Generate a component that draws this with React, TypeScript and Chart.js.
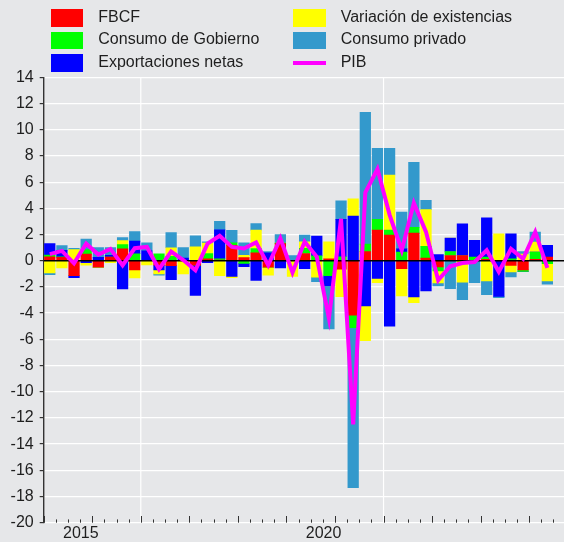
import React, { useEffect, useRef } from "react";
import { Chart, registerables } from "chart.js";

Chart.register(...registerables);

const QUARTERS = [
  "2014T1","2014T2","2014T3","2014T4","2015T1","2015T2","2015T3","2015T4",
  "2016T1","2016T2","2016T3","2016T4","2017T1","2017T2","2017T3","2017T4",
  "2018T1","2018T2","2018T3","2018T4","2019T1","2019T2","2019T3","2019T4",
  "2020T1","2020T2","2020T3","2020T4","2021T1","2021T2","2021T3","2021T4",
  "2022T1","2022T2","2022T3","2022T4","2023T1","2023T2","2023T3","2023T4",
  "2024T1","2024T2",
];

const FBCF = [
  0.29, 0.25, -1.15, 0.5, -0.5, 0.28, 0.9, -0.71, 0, -0.35, -0.38, 0, -0.35, 0.15,
  0.05, 1.17, 0.23, 0.6, -0.5, 1.3, 0, 0.55, 0, 0.15, -0.65, -4.15, 0.69, 2.34,
  1.96, -0.6, 2.1, 0.2, -0.48, 0.4, 0.4, 0, 0.1, 0, -0.36, -0.7, 0.1, 0.28,
];
const CONSUMO_GOBIERNO = [
  0.13, 0.05, 0, 0.35, 0, 0, 0.33, 0.53, 0, 0.53, 0.33, 0, 0, 0.4,
  0.1, 0.2, -0.2, 0.33, 0, 0.05, 0, 0.4, 0.37, -1.15, 0.3, -0.96, 0.58, 0.82,
  0.38, 0.66, 0.45, 0.9, -0.3, 0.3, 0, 0.28, 0.18, 0, 0.15, -0.12, 0.56, -0.23,
];
const EXPORTACIONES_NETAS = [
  0.89, 0.5, -0.15, -0.15, 0.25, 0.13, -2.15, 0.97, 0.76, -0.35, -1.07, 0.2, -2.3, -0.15,
  2.2, -1.2, -0.25, -1.5, 0.6, -0.55, 0, -0.6, 1.5, -0.75, 2.85, 3.41, -3.46, -1.35,
  -4.99, 0.25, -2.76, -2.3, 0.46, 1.03, 2.42, 1.27, 3.0, -2.72, 1.9, 0, 0, 0.89,
];
const VARIACION_EXISTENCIAS = [
  -0.93, -0.55, 0.85, -0.2, 0, -0.15, 0.3, -0.61, -0.33, -0.3, 0.66, -1.0, 1.05, 0.8,
  -1.15, -0.1, 0.18, 1.4, -0.6, 0, -1.2, 0.5, -1.25, 1.3, -2.1, 1.32, -2.64, -0.33,
  4.2, -2.08, -0.44, 2.8, -0.92, 0, -1.63, 0, -1.55, 2.06, -0.5, 0.5, 0.76, -1.32,
];
const CONSUMO_PRIVADO = [
  -0.13, 0.35, 0.1, 0.8, 0.75, 0.6, 0.23, 0.72, 0.6, -0.1, 1.15, 0.8, 0.85, 0.1,
  0.65, 0.95, 0.95, 0.5, 0.1, 0.65, 0.4, 0.5, -0.35, -3.3, 1.42, -12.22, 10.05, 5.42,
  2.04, 2.8, 4.95, 0.7, -0.23, -2.14, -1.35, -1.68, -1.05, -0.1, -0.38, 0.2, 0.77, -0.25,
];
const PIB = [
  0.5, 0.75, -0.2, 1.3, 0.47, 0.9, -0.35, 0.95, 1.05, -0.65, 0.7, 0.05, -0.73, 1.3,
  1.9, 1.05, 0.93, 1.4, -0.35, 1.7, -0.9, 1.45, 0.3, -4.4, 3.2, -12.5, 5.2, 7.0,
  3.5, 0.8, 4.4, 2.2, -1.5, -0.42, -0.18, -0.1, 0.8, -0.85, 0.9, 0.15, 2.2, -0.55,
];

const YEAR_LABELS = ["2015", "2020"];
const FIRST_YEAR = 2014;
const Y_MIN = -20;
const Y_MAX = 14;

const FONT = '"Liberation Sans", Arial, Helvetica, sans-serif';
const BG = "#e6e7e9";
const TEXT = "#1e1e1e";

const LEGEND = [
  { label: "FBCF", color: "#ff0000", kind: "box" },
  { label: "Consumo de Gobierno", color: "#00ff00", kind: "box" },
  { label: "Exportaciones netas", color: "#0000ff", kind: "box" },
  { label: "Variación de existencias", color: "#ffff00", kind: "box" },
  { label: "Consumo privado", color: "#3399cc", kind: "box" },
  { label: "PIB", color: "#ff00ff", kind: "line" },
];

export default function App() {
  const ref = useRef<HTMLCanvasElement | null>(null);

  useEffect(() => {
    document.body.style.margin = "0";
    document.body.style.background = BG;
    const canvas = ref.current;
    if (!canvas) return;
    const n = QUARTERS.length;
    const pts = (arr: number[]) => arr.map((v, i) => ({ x: i + 0.5, y: v }));
    const barSeries = [
      { label: "FBCF", data: FBCF, color: "#ff0000" },
      { label: "Consumo de Gobierno", data: CONSUMO_GOBIERNO, color: "#00ff00" },
      { label: "Exportaciones netas", data: EXPORTACIONES_NETAS, color: "#0000ff" },
      { label: "Variación de existencias", data: VARIACION_EXISTENCIAS, color: "#ffff00" },
      { label: "Consumo privado", data: CONSUMO_PRIVADO, color: "#3399cc" },
    ];

    const decor = {
      id: "decor",
      beforeDatasetsDraw(chart: any) {
        const { ctx, chartArea } = chart;
        const xs = chart.scales.x;
        ctx.save();
        ctx.strokeStyle = "#ffffff";
        ctx.lineWidth = 1.2;
        [8, 28].forEach((t) => {
          const x = xs.getPixelForValue(t);
          ctx.beginPath();
          ctx.moveTo(x, chartArea.top);
          ctx.lineTo(x, chartArea.bottom);
          ctx.stroke();
        });
        ctx.restore();
      },
      afterDatasetDraw(chart: any, args: any) {
        if (args.index !== 0) return;
        const { ctx, chartArea } = chart;
        const y = chart.scales.y.getPixelForValue(0);
        ctx.save();
        ctx.strokeStyle = "#000000";
        ctx.lineWidth = 1.5;
        ctx.beginPath();
        ctx.moveTo(chartArea.left, y);
        ctx.lineTo(chartArea.right, y);
        ctx.stroke();
        ctx.restore();
      },
      afterDraw(chart: any) {
        const { ctx, chartArea } = chart;
        const xs = chart.scales.x;
        ctx.save();
        ctx.strokeStyle = "#333333";
        ctx.lineWidth = 1;
        for (let t = 0; t <= n; t++) {
          const x = Math.round(xs.getPixelForValue(t)) + 0.5;
          const len = t % 4 === 0 ? 6.7 : 3.3;
          ctx.beginPath();
          ctx.moveTo(x, chartArea.bottom);
          ctx.lineTo(x, chartArea.bottom - len);
          ctx.stroke();
        }
        ctx.fillStyle = TEXT;
        ctx.font = `16px ${FONT}`;
        ctx.textAlign = "center";
        ctx.textBaseline = "alphabetic";
        YEAR_LABELS.forEach((lab) => {
          const t = (parseInt(lab, 10) - FIRST_YEAR) * 4;
          const x = xs.getPixelForValue(t) - 11.4;
          ctx.fillText(lab, x, chartArea.bottom + 15.6);
        });
        ctx.restore();
      },
    };

    const chart = new Chart(canvas, {
      type: "bar",
      data: {
        datasets: [
          ...barSeries.map((s) => ({
            type: "bar" as const,
            label: s.label,
            data: pts(s.data),
            backgroundColor: s.color,
            borderWidth: 0,
            barThickness: 10.6,
            stack: "bars",
            order: 0,
          })),
          {
            type: "line" as const,
            label: "PIB",
            data: pts(PIB),
            borderColor: "#ff00ff",
            backgroundColor: "#ff00ff",
            borderWidth: 4,
            pointRadius: 0,
            tension: 0,
            fill: false,
            stack: "pib",
            order: -1,
          },
        ],
      } as any,
      options: {
        responsive: false,
        animation: false,
        devicePixelRatio: 1,
        layout: { padding: { top: 77.3, bottom: 19.3, left: 0, right: 0 } },
        plugins: { legend: { display: false }, tooltip: { enabled: false } },
        scales: {
          x: {
            type: "linear",
            min: 0,
            max: 42.87,
            offset: false,
            stacked: true,
            display: false,
            grid: { offset: false },
          },
          y: {
            stacked: true,
            min: Y_MIN,
            max: Y_MAX,
            afterFit: (s: any) => {
              s.width = 43.7;
            },
            grid: {
              color: "#ffffff",
              lineWidth: 1.2,
              tickColor: "#333333",
              tickLength: 4,
              drawTicks: true,
            },
            border: { display: true, color: "#333333", width: 1.4 },
            ticks: {
              stepSize: 2,
              padding: 6,
              color: TEXT,
              font: { family: FONT, size: 16 },
            },
          },
        },
      } as any,
      plugins: [decor],
    });
    return () => chart.destroy();
  }, []);

  const col = (i: number) => (i < 3 ? 0 : 1);
  const row = (i: number) => i % 3;
  const swX = [50.7, 293.3];
  const txX = [98.3, 340.7];
  const rowY = [17.8, 40.4, 62.9];

  return (
    <div style={{ position: "absolute", left: 0, top: 0, width: 564, height: 542, background: BG }}>
      <canvas ref={ref} width={564} height={542} style={{ position: "absolute", left: 0, top: 0, width: 564, height: 542 }} />
      {LEGEND.map((it, i) => {
        const c = col(i);
        const cy = rowY[row(i)];
        return (
          <React.Fragment key={it.label}>
            {it.kind === "box" ? (
              <div style={{ position: "absolute", left: swX[c], top: cy - 8.8, width: 32.6, height: 17.6, background: it.color }} />
            ) : (
              <div style={{ position: "absolute", left: swX[c], top: cy - 2.1, width: 32.6, height: 4.2, background: it.color }} />
            )}
            <div
              style={{
                position: "absolute",
                left: txX[c],
                top: cy - 10,
                height: 22,
                lineHeight: "22px",
                font: `16px ${FONT}`,
                color: TEXT,
                whiteSpace: "nowrap",
              }}
            >
              {it.label}
            </div>
          </React.Fragment>
        );
      })}
    </div>
  );
}
